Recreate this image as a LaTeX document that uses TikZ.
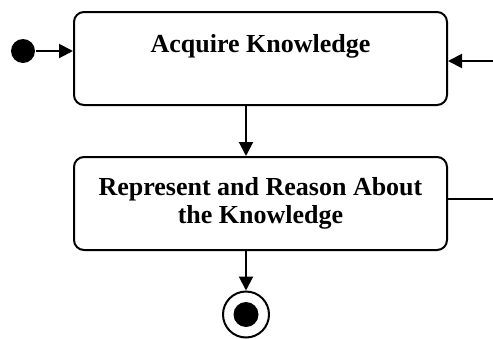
\documentclass[tikz,border=0pt]{standalone}
\usepackage{fontspec}
\setmainfont{Liberation Serif}
\usetikzlibrary{arrows.meta,positioning}

\begin{document}
\begin{tikzpicture}[line width=1pt,>={Triangle[length=7pt,width=7pt]},
			every node/.style={font=\bfseries\fontsize{13}{14}\selectfont},
			activity/.style={draw,rounded corners=5pt,minimum width=186.5pt,minimum height=46.5pt,inner sep=0pt,align=center},
			startstate/.style={circle,fill=black,minimum size=12pt,inner sep=0pt},
			endstate/.style={circle,draw,minimum size=23pt,inner sep=0pt,
				path picture={\fill (path picture bounding box.center) circle (6.25pt);}}]

			\useasboundingbox (0,0) rectangle (246.5pt,-169pt);

			\node [activity,text height=20pt,text depth=26.5pt] (acquire) at (130.25pt,-29.25pt) {Acquire Knowledge};
			\node [activity,below=25pt of acquire] (reason) {Represent and Reason About\\the Knowledge};
			\node [startstate] (start) at (11.5pt,-25.5pt) {};
			\node [endstate] (final) at (123pt,-157.25pt) {};
			\coordinate (backin) at (246.5pt,-30.5pt);
			\coordinate (backout) at (246.5pt,-99.5pt);

			\draw [->] (start) -- (start -| acquire.west);
			\draw [->] (acquire.south -| final) -- (reason.north -| final);
			\draw [->] (reason.south -| final) -- (final);
			\draw [->] (backin) -- (backin -| acquire.east);
			\draw (backout -| reason.east) -- (backout);
	\end{tikzpicture}
\end{document}
